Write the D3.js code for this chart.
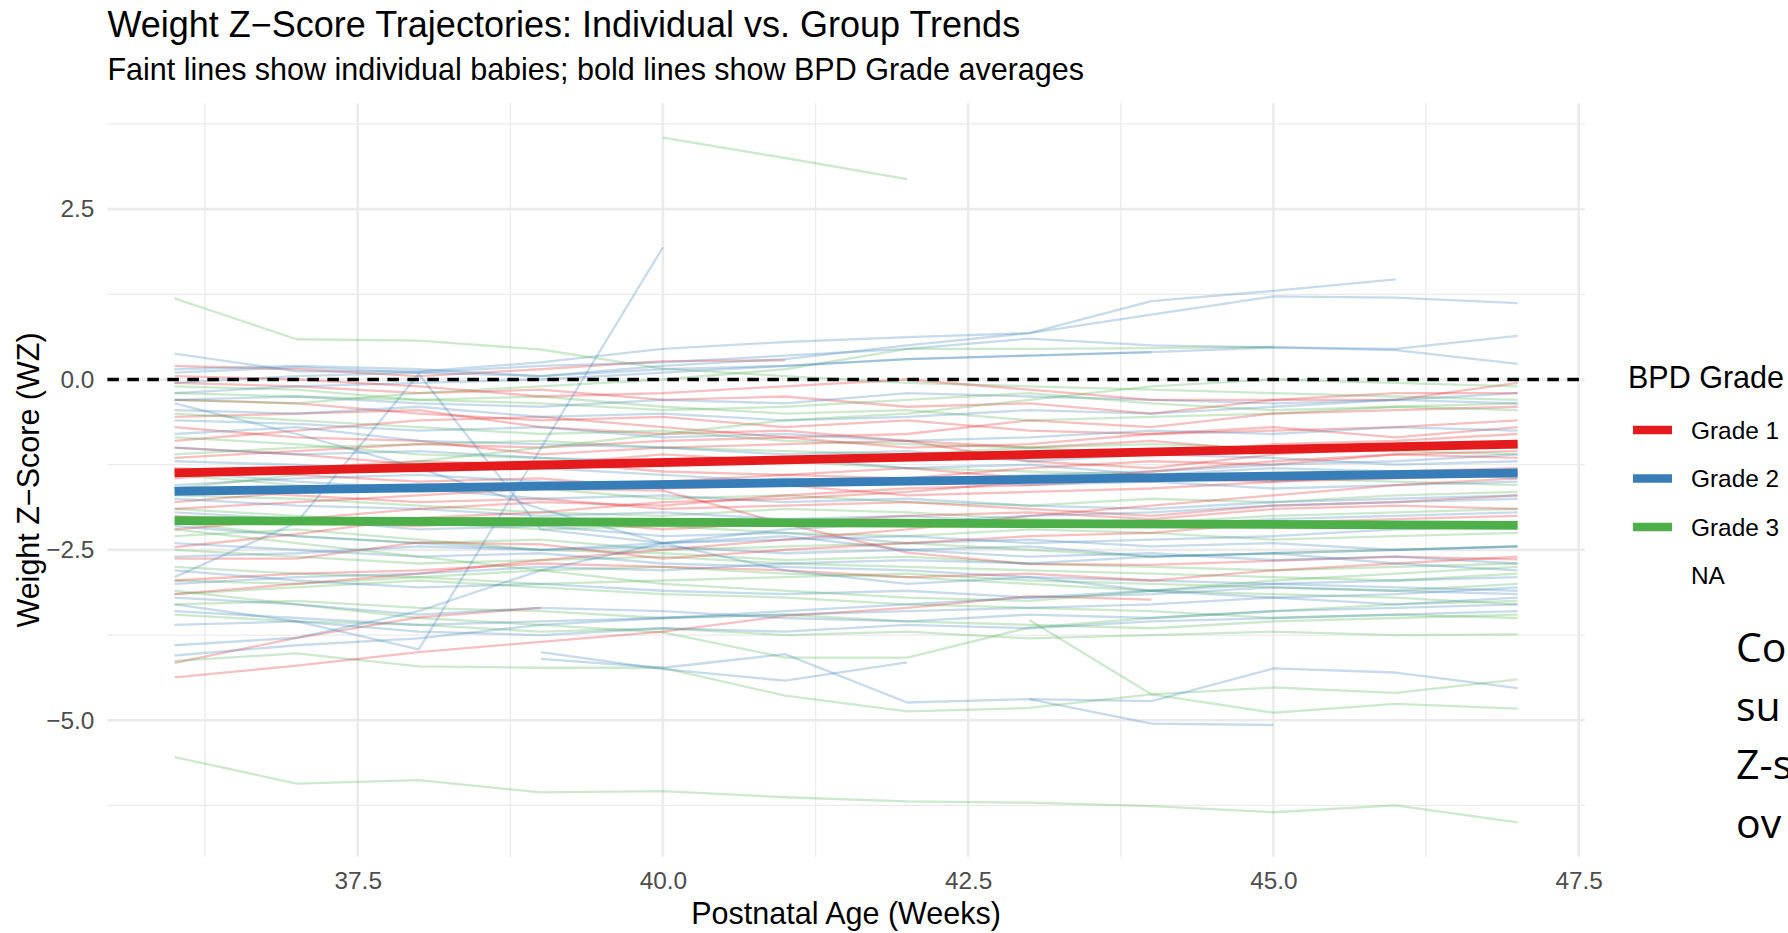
<!DOCTYPE html>
<html>
<head>
<meta charset="utf-8">
<script src="https://cdn.jsdelivr.net/npm/d3@7"></script>
<style>
  body { margin: 0; background: #ffffff; }
  svg { display: block; font-family: "Liberation Sans", Arial, Helvetica, sans-serif; }
</style>
</head>
<body>
<svg id="chart" width="1788" height="933"></svg>
<script>
// ---------------- DATA ----------------
const weeks = [36, 37, 38, 39, 40, 41, 42, 43, 44, 45, 46, 47];

// Each row = one baby, values of Weight Z-score at the weeks above (null = not measured)
const grade1Babies = [
  [0.20, 0.15, 0.05, 0.15, 0.27, 0.28, null, null, null, null, null, null],
  [-0.05, -0.10, -0.20, -0.15, -0.30, -0.25, -0.40, -0.35, -0.50, -0.30, -0.30, -0.05],
  [-0.30, -0.35, -0.50, -0.60, -0.55, -0.70, -0.60, -0.75, -0.80, -0.70, -0.85, -0.70],
  [-0.55, -0.50, -0.45, -0.70, -0.80, -0.75, -0.90, -1.00, -0.90, -1.05, -0.95, -1.00],
  [-0.70, -0.85, -0.90, -1.10, -1.00, -0.95, -0.90, -1.20, -1.30, -1.10, -1.00, -0.90],
  [-0.90, -0.75, -0.60, -0.55, -0.70, -0.85, -0.80, -0.60, -0.70, -0.50, -0.45, -0.40],
  [-1.00, -1.10, -1.25, -1.20, -1.35, -1.40, -1.30, -1.45, -1.50, -1.40, -1.35, -1.30],
  [-1.15, -1.05, -0.95, -1.00, -0.90, -0.85, -1.00, -0.95, -0.80, -0.75, -0.70, -0.60],
  [-1.30, -1.40, -1.50, -1.45, -1.60, -1.55, -1.70, -1.65, -1.60, -1.50, -1.45, -1.40],
  [-1.45, -1.30, -1.20, -1.25, -1.10, -1.20, -1.15, -1.05, -1.10, -0.95, -0.90, -0.80],
  [-1.60, -1.70, -1.80, -1.75, -1.90, -1.85, -1.80, -1.90, -2.00, -1.85, -1.80, -1.70],
  [-1.80, -1.65, -1.55, -1.60, -1.50, -1.40, -1.45, -1.30, -1.20, -1.25, -1.10, -1.05],
  [-1.90, -1.80, -1.70, -1.60, -1.63, -2.12, -2.54, -2.71, -2.72, -2.66, -2.60, -2.64],
  [-2.00, -2.10, -2.15, -2.05, -2.20, -2.10, -2.00, -1.95, -2.05, -1.90, -1.85, -1.90],
  [-2.20, -2.05, -1.90, -1.80, -1.85, -1.70, -1.60, -1.55, -1.45, -1.50, -1.40, -1.35],
  [-2.46, -2.27, -2.03, -1.95, -1.80, -1.75, -1.65, -1.50, -1.35, -1.20, -1.10, -1.15],
  [-2.63, -2.63, -2.39, -2.42, -2.63, -2.50, -2.40, -2.30, -2.25, -2.10, -2.05, -2.00],
  [-2.95, -2.85, -2.80, -2.70, -2.75, -2.80, -2.90, -2.85, -2.95, -2.80, -2.70, -2.60],
  [-3.15, -3.00, -2.85, -2.65, -2.50, -2.35, -2.20, -2.00, -1.85, -1.70, -1.55, -1.45],
  [-4.16, -3.79, -3.49, -3.35, null, null, null, null, null, null, null, null],
  [-4.37, -4.20, -4.00, -3.85, -3.70, -3.47, -3.35, -3.18, -3.23, null, null, null],
  [0.05, 0.00, -0.10, -0.25, -0.20, -0.10, 0.00, -0.15, -0.30, -0.30, -0.20, -0.20]
];

const grade2Babies = [
  [0.38, 0.12, 0.12, 0.25, 0.45, 0.55, 0.62, 0.68, 1.15, 1.30, 1.47, null],
  [0.15, 0.20, 0.15, 0.05, 0.20, 0.30, 0.50, 0.68, 0.95, 1.22, 1.20, 1.12],
  [0.10, 0.18, 0.10, 0.20, 0.25, 0.35, 0.45, 0.60, 0.50, 0.47, 0.45, 0.64],
  [-0.05, 0.05, 0.10, 0.05, 0.15, 0.20, 0.30, 0.35, 0.40, 0.47, 0.43, 0.23],
  [-0.20, -0.10, -0.05, 0.00, 0.10, 0.20, 0.30, 0.35, 0.40, null, null, null],
  [-0.30, -0.25, -0.35, -0.40, -0.30, -0.35, -0.20, -0.25, -0.30, -0.35, -0.30, -0.35],
  [-0.45, -0.50, -0.40, -0.55, -0.50, -0.60, -0.55, -0.45, -0.50, -0.40, -0.30, -0.20],
  [-0.60, -0.65, -0.75, -0.70, -0.85, -0.80, -0.90, -0.85, -0.75, -0.80, -0.70, -0.75],
  [-0.80, -0.70, -0.90, -0.95, -1.00, -1.10, -1.05, -1.20, -1.10, -1.15, -1.25, -1.20],
  [-1.00, -1.10, -1.05, -1.15, -1.20, -1.15, -1.30, -1.25, -1.40, -1.30, -1.35, -1.45],
  [-1.20, -1.25, -1.35, -1.30, -1.40, -1.50, -1.45, -1.55, -1.50, -1.60, -1.55, -1.50],
  [-1.35, -1.50, -1.60, -1.75, -1.70, -1.80, -1.75, -1.85, -1.90, -1.80, -1.75, -1.70],
  [-1.55, -1.45, -1.40, -1.50, -1.55, -1.45, -1.50, -1.40, -1.35, -1.25, -1.20, -1.10],
  [-1.75, -1.85, -1.90, -2.00, -1.95, -2.05, -2.00, -2.10, -2.15, -2.05, -2.00, -1.95],
  [-1.95, -2.05, -2.20, -2.15, -2.30, -2.25, -2.40, -2.35, -2.45, -2.40, -2.50, -2.45],
  [-2.15, -2.30, -2.40, -2.50, -2.45, -2.55, -2.50, -2.60, -2.55, -2.65, -2.60, -2.70],
  [-2.40, -2.50, -2.60, -2.55, -2.70, -2.75, -2.80, -2.90, -2.95, -3.00, -3.05, -3.10],
  [-2.60, -2.55, -2.45, -2.50, -2.40, -2.35, -2.30, -2.40, -2.35, -2.30, -2.20, -2.15],
  [-2.90, -2.10, 0.08, -2.20, -2.40, -2.30, -2.50, -2.45, -2.60, -2.55, -2.70, -2.80],
  [-2.80, -2.95, -3.05, -3.00, -3.10, -3.15, -3.10, -3.20, -3.15, -3.05, -3.10, -3.15],
  [-3.00, -2.90, -2.85, -2.75, -2.80, -2.70, -2.65, -2.70, -2.60, -2.55, -2.50, -2.45],
  [-3.20, -3.30, -3.45, -3.35, -3.40, -3.50, -3.55, -3.45, -3.50, -3.40, -3.35, -3.30],
  [-3.40, -3.50, -3.60, -3.55, -3.50, -3.45, -3.40, -3.35, -3.30, -3.20, -3.15, -3.05],
  [-3.60, -3.55, -3.70, -3.75, -3.65, -3.70, -3.60, -3.65, -3.55, -3.50, -3.45, -3.40],
  [-3.90, -3.79, -3.40, -2.80, -2.40, -2.20, -2.10, -2.00, -1.95, -1.85, -1.80, -1.75],
  [-4.05, -3.90, -3.80, -3.60, -3.50, -3.40, -3.30, -3.20, -3.10, -3.00, -2.95, -2.90],
  [-3.30, -3.55, -3.96, null, 1.94, null, null, null, null, null, null, null],
  [null, null, null, -4.10, -4.23, -4.03, -4.74, -4.69, -4.72, -4.24, -4.30, -4.53],
  [null, null, null, null, null, null, null, -4.69, -5.05, -5.07, null, null],
  [null, null, null, -4.00, -4.25, -4.42, -4.15, null, null, null, null, null],
  [-0.35, -0.80, -1.30, -1.90, -2.40, -2.80, -3.00, -2.90, -3.10, -3.20, -3.30, -3.20]
];

const grade3Babies = [
  [1.19, 0.59, 0.57, 0.44, 0.16, 0.05, -0.05, -0.10, -0.15, -0.20, -0.25, -0.30],
  [null, null, null, null, 3.55, 3.25, 2.94, null, null, null, null, null],
  [-0.30, -0.35, -0.20, -0.10, 0.00, 0.15, 0.45, 0.45, 0.46, 0.48, null, null],
  [-0.10, -0.15, -0.30, -0.25, -0.40, -0.50, -0.45, -0.60, -0.55, -0.50, -0.40, -0.35],
  [-0.50, -0.60, -0.70, -0.80, -0.75, -0.90, -0.95, -1.00, -1.10, -1.05, -1.00, -0.95],
  [-0.85, -0.95, -1.10, -1.15, -1.25, -1.20, -1.30, -1.35, -1.40, -1.45, -1.50, -1.55],
  [-1.10, -1.00, -0.95, -0.90, -1.00, -1.05, -1.10, -1.00, -0.95, -1.00, -1.05, -1.10],
  [-1.40, -1.55, -1.65, -1.60, -1.75, -1.70, -1.80, -1.85, -1.75, -1.80, -1.70, -1.65],
  [-1.70, -1.75, -1.85, -1.95, -2.00, -1.90, -1.95, -2.05, -2.10, -2.00, -1.95, -1.90],
  [-1.90, -2.00, -2.10, -2.20, -2.15, -2.25, -2.30, -2.20, -2.25, -2.35, -2.30, -2.25],
  [-2.10, -2.30, -2.40, -2.35, -2.50, -2.45, -2.40, -2.50, -2.60, -2.55, -2.50, -2.45],
  [-2.30, -2.20, -2.35, -2.50, -2.55, -2.65, -2.60, -2.70, -2.75, -2.80, -2.75, -2.70],
  [-2.50, -2.60, -2.70, -2.65, -2.60, -2.70, -2.75, -2.80, -2.85, -2.90, -2.95, -2.85],
  [-2.75, -2.85, -2.90, -3.00, -2.95, -2.90, -2.85, -2.95, -3.00, -3.05, -3.10, -3.00],
  [-2.95, -3.00, -2.90, -2.80, -2.75, -2.85, -2.90, -3.00, -3.10, -3.15, -3.20, -3.30],
  [-3.15, -3.05, -2.95, -3.05, -3.15, -3.20, -3.30, -3.35, -3.40, -3.50, -3.45, -3.50],
  [-3.30, -3.25, -3.35, -3.40, -3.50, -3.45, -3.55, -3.60, -3.65, -3.55, -3.50, -3.45],
  [-3.45, -3.55, -3.60, -3.70, -3.65, -3.75, -3.70, -3.80, -3.75, -3.70, -3.75, -3.74],
  [-3.10, -3.30, -3.50, -3.60, -3.71, -4.08, -4.08, -3.64, -3.50, -3.40, -3.30, -3.25],
  [-4.13, -4.02, -4.21, -4.23, -4.23, -4.64, -4.87, -4.82, -4.62, -4.52, -4.60, -4.40],
  [null, null, null, null, null, null, null, -3.53, -4.62, -4.89, -4.76, -4.83],
  [-5.54, -5.93, -5.88, -6.06, -6.04, -6.13, -6.19, -6.21, -6.26, -6.35, -6.25, -6.50],
  [-1.60, -1.40, -1.20, -1.00, -0.80, -0.60, -0.50, -0.30, -0.10, 0.00, -0.05, -0.10],
  [-2.20, -2.40, -2.60, -2.80, -3.00, -3.10, -3.20, -3.25, -3.10, -2.95, -2.85, -2.75],
  [-0.20, -0.25, -0.30, -0.35, -0.45, -0.40, -0.30, -0.20, -0.35, -0.45, -0.40, -0.45]
];

// Group average (linear trend) lines, at first and last week
const trendWeeks = [36, 47];
const grade1Trend = [-1.37, -0.95];
const grade2Trend = [-1.64, -1.37];
const grade3Trend = [-2.07, -2.14];

const legendLabels = ["Grade 1", "Grade 2", "Grade 3", "NA"];
const gradeColors = ["#E41A1C", "#377EB8", "#4DAF4A", null];

const xTicks = [37.5, 40.0, 42.5, 45.0, 47.5];
const xMinorTicks = [36.25, 38.75, 41.25, 43.75, 46.25];
const yTicks = [2.5, 0.0, -2.5, -5.0];
const yMinorTicks = [3.75, 1.25, -1.25, -3.75, -6.25];

const titleText = "Weight Z\u2212Score Trajectories: Individual vs. Group Trends";
const subtitleText = "Faint lines show individual babies; bold lines show BPD Grade averages";
const xAxisTitle = "Postnatal Age (Weeks)";
const yAxisTitle = "Weight Z\u2212Score (WZ)";
const legendTitle = "BPD Grade";
const slideTextLines = ["Co", "su", "Z-s", "ov"];

// ---------------- LAYOUT ----------------
const panel = { left: 107.4, right: 1584.8, top: 103.3, bottom: 856.7 };
const baseSize = 30.5;

const svg = d3.select("#chart");

// Build per-baby point lists
function toPoints(row) {
  return weeks.map((w, i) => ({ week: w, wz: row[i] })).filter(d => d.wz !== null);
}
const groups = [grade1Babies, grade2Babies, grade3Babies];
const babies = [];
const maxN = d3.max(groups, g => g.length);
for (let i = 0; i < maxN; i++) {
  groups.forEach((g, gi) => {
    if (g[i]) babies.push({ grade: gi, pts: toPoints(g[i]) });
  });
}

// scales with ggplot-like 5% expansion
const allPts = babies.flatMap(b => b.pts);
const xExt = d3.extent(allPts, d => d.week);
const yExt = d3.extent(allPts, d => d.wz);
const xPad = (xExt[1] - xExt[0]) * 0.05;
const yPad = (yExt[1] - yExt[0]) * 0.05;
const x = d3.scaleLinear().domain([xExt[0] - xPad, xExt[1] + xPad]).range([panel.left, panel.right]);
const y = d3.scaleLinear().domain([yExt[0] - yPad, yExt[1] + yPad]).range([panel.bottom, panel.top]);

// ---------------- GRID ----------------
const grid = svg.append("g");
grid.selectAll("line.xminor").data(xMinorTicks).join("line")
  .attr("x1", d => x(d)).attr("x2", d => x(d))
  .attr("y1", panel.top).attr("y2", panel.bottom)
  .attr("stroke", "#EBEBEB").attr("stroke-width", 1.3);
grid.selectAll("line.yminor").data(yMinorTicks).join("line")
  .attr("x1", panel.left).attr("x2", panel.right)
  .attr("y1", d => y(d)).attr("y2", d => y(d))
  .attr("stroke", "#EBEBEB").attr("stroke-width", 1.3);
grid.selectAll("line.xmajor").data(xTicks).join("line")
  .attr("x1", d => x(d)).attr("x2", d => x(d))
  .attr("y1", panel.top).attr("y2", panel.bottom)
  .attr("stroke", "#EBEBEB").attr("stroke-width", 2.6);
grid.selectAll("line.ymajor").data(yTicks).join("line")
  .attr("x1", panel.left).attr("x2", panel.right)
  .attr("y1", d => y(d)).attr("y2", d => y(d))
  .attr("stroke", "#EBEBEB").attr("stroke-width", 2.6);

// ---------------- INDIVIDUAL LINES ----------------
const lineGen = d3.line().x(d => x(d.week)).y(d => y(d.wz));
svg.append("g").selectAll("path").data(babies).join("path")
  .attr("d", d => lineGen(d.pts))
  .attr("fill", "none")
  .attr("stroke", d => gradeColors[d.grade])
  .attr("stroke-opacity", 0.28)
  .attr("stroke-width", 2.3)
  .attr("stroke-linejoin", "round");

// ---------------- REFERENCE LINE ----------------
svg.append("line")
  .attr("x1", panel.left).attr("x2", panel.right)
  .attr("y1", y(0)).attr("y2", y(0))
  .attr("stroke", "#000").attr("stroke-width", 3.3)
  .attr("stroke-dasharray", "11.5,8.5");

// ---------------- TREND LINES ----------------
const trends = [grade1Trend, grade2Trend, grade3Trend];
svg.append("g").selectAll("path").data(trends).join("path")
  .attr("d", t => lineGen(trendWeeks.map((w, i) => ({ week: w, wz: t[i] }))))
  .attr("fill", "none")
  .attr("stroke", (t, i) => gradeColors[i])
  .attr("stroke-width", 8.8);

// ---------------- AXES ----------------
const fmt = d3.format(".1f");
const xAxis = svg.append("g")
  .attr("transform", `translate(0,${panel.bottom})`)
  .call(d3.axisBottom(x).tickValues(xTicks).tickFormat(fmt).tickSize(0).tickPadding(15));
const yAxis = svg.append("g")
  .attr("transform", `translate(${panel.left},0)`)
  .call(d3.axisLeft(y).tickValues(yTicks).tickFormat(fmt).tickSize(0).tickPadding(13));
[xAxis, yAxis].forEach(a => {
  a.select(".domain").remove();
  a.selectAll("text")
    .attr("font-family", '"Liberation Sans", Arial, sans-serif')
    .attr("font-size", baseSize * 0.8)
    .attr("fill", "#4D4D4D");
});

// ---------------- TITLES ----------------
svg.append("text").text(titleText)
  .attr("x", panel.left).attr("y", 37)
  .attr("font-size", 36).attr("fill", "#000");
svg.append("text").text(subtitleText)
  .attr("x", panel.left).attr("y", 80)
  .attr("font-size", baseSize).attr("fill", "#000");
svg.append("text").text(xAxisTitle)
  .attr("x", (panel.left + panel.right) / 2).attr("y", 924)
  .attr("text-anchor", "middle")
  .attr("font-size", baseSize).attr("fill", "#000");
svg.append("text").text(yAxisTitle)
  .attr("transform", `translate(39,${(panel.top + panel.bottom) / 2}) rotate(-90)`)
  .attr("text-anchor", "middle")
  .attr("font-size", baseSize).attr("fill", "#000");

// ---------------- LEGEND ----------------
const legend = svg.append("g").attr("transform", "translate(1628,0)");
legend.append("text").text(legendTitle)
  .attr("x", 0).attr("y", 388)
  .attr("font-size", baseSize).attr("fill", "#000");
const items = legend.selectAll("g.item").data(legendLabels).join("g")
  .attr("transform", (d, i) => `translate(0,${430 + i * 48.5})`);
items.filter((d, i) => gradeColors[i] !== null).append("line")
  .attr("x1", 5).attr("x2", 44).attr("y1", 0).attr("y2", 0)
  .attr("stroke", (d, i) => gradeColors[legendLabels.indexOf(d)])
  .attr("stroke-width", 8.5);
items.append("text").text(d => d)
  .attr("x", 63).attr("y", 8.5)
  .attr("font-size", baseSize * 0.8).attr("fill", "#000");

// ---------------- SLIDE TEXT (cut off at right edge, as in the reference) ----------------
svg.append("g").selectAll("text").data(slideTextLines).join("text")
  .text(d => d)
  .attr("x", 1736).attr("y", (d, i) => 662 + i * 58.5)
  .attr("font-family", '"Open Sans", "Noto Sans", sans-serif')
  .attr("font-size", 41).attr("fill", "#000");
</script>
</body>
</html>
